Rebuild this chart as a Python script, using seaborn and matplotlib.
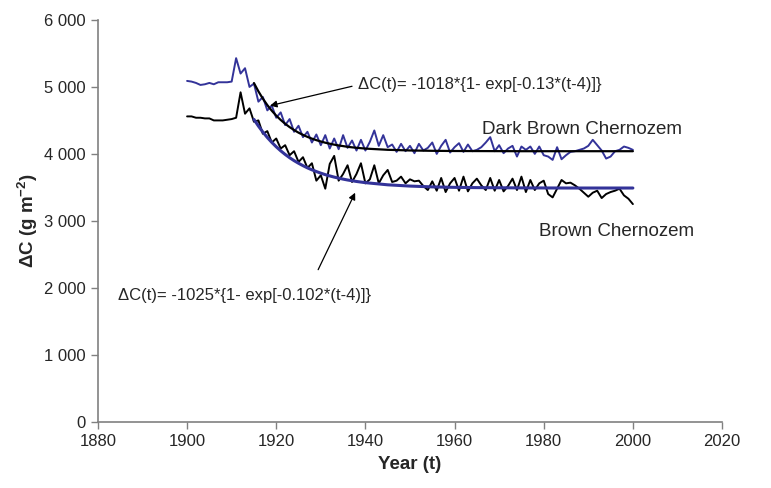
import numpy as np
import pandas as pd
import matplotlib
matplotlib.use("Agg")
import matplotlib.pyplot as plt
import seaborn as sns

# ----------------------------- DATA -----------------------------
years = list(range(1900, 2001))

dark_brown = [
    5090, 5080, 5060, 5030, 5040, 5060, 5040, 5070, 5070, 5070,   # 1900-1909
    5080, 5430, 5200, 5280, 5000, 5050, 4780, 4850, 4650, 4720,   # 1910-1919
    4540, 4620, 4430, 4520, 4330, 4420, 4250, 4330, 4170, 4290,   # 1920-1929
    4130, 4280, 4080, 4230, 4070, 4280, 4090, 4200, 4050, 4210,   # 1930-1939
    4050, 4180, 4350, 4120, 4280, 4100, 4140, 4030, 4150, 4040,   # 1940-1949
    4120, 4010, 4150, 4050, 4090, 4170, 4000, 4120, 4210, 4020,   # 1950-1959
    4100, 4160, 4030, 4140, 4040, 4060, 4100, 4170, 4250, 4040,   # 1960-1969
    4130, 4010, 4080, 4120, 3960, 4110, 4060, 4110, 4000, 4110,   # 1970-1979
    3980, 3960, 3910, 4100, 3920, 3980, 4030, 4040, 4060, 4080,   # 1980-1989
    4120, 4210, 4130, 4050, 3930, 3960, 4040, 4060, 4110, 4090,   # 1990-1999
    4060,                                                         # 2000
]

brown = [
    4560, 4560, 4540, 4540, 4530, 4530, 4500, 4500, 4500, 4510,   # 1900-1909
    4520, 4540, 4920, 4600, 4680, 4480, 4500, 4300, 4340, 4170,   # 1910-1919
    4230, 4080, 4130, 3980, 4040, 3880, 3950, 3790, 3860, 3600,   # 1920-1929
    3680, 3480, 3850, 3970, 3600, 3700, 3830, 3580, 3700, 3860,   # 1930-1939
    3560, 3620, 3830, 3560, 3680, 3760, 3580, 3600, 3660, 3560,   # 1940-1949
    3620, 3590, 3600, 3520, 3460, 3590, 3450, 3640, 3430, 3560,   # 1950-1959
    3640, 3450, 3660, 3440, 3560, 3630, 3530, 3460, 3640, 3450,   # 1960-1969
    3610, 3440, 3520, 3630, 3460, 3660, 3430, 3610, 3460, 3560,   # 1970-1979
    3600, 3400, 3350, 3480, 3610, 3560, 3570, 3530, 3480, 3420,   # 1980-1989
    3360, 3420, 3450, 3340, 3400, 3430, 3450, 3480, 3380, 3330,   # 1990-1999
    3250,                                                         # 2000
]

fit_years = list(range(1915, 1941)) + [1945, 1950, 1955, 1960, 1965, 1970,
                                       1975, 1980, 1985, 1990, 1995, 2000]
fit_dark_brown = [
    5058, 4934, 4825, 4729, 4645, 4571, 4507, 4450, 4400, 4356,
    4317, 4284, 4254, 4228, 4205, 4185, 4167, 4152, 4138, 4126,
    4116, 4106, 4098, 4091, 4085, 4079,
    4061, 4051, 4046, 4043, 4042, 4041, 4040, 4040, 4040, 4040, 4040, 4040,
]
fit_brown = [
    4515, 4416, 4326, 4245, 4172, 4106, 4046, 3992, 3943, 3899,
    3860, 3824, 3791, 3762, 3736, 3712, 3690, 3671, 3653, 3638,
    3623, 3610, 3599, 3588, 3579, 3570,
    3538, 3519, 3507, 3500, 3496, 3494, 3492, 3491, 3490, 3490, 3490, 3490,
]

xticks = [1880, 1900, 1920, 1940, 1960, 1980, 2000, 2020]
yticks = [0, 1000, 2000, 3000, 4000, 5000, 6000]
ylabels = ["0", "1 000", "2 000", "3 000", "4 000", "5 000", "6 000"]

eq_dark = "ΔC(t)= -1018*{1- exp[-0.13*(t-4)]}"
eq_brown = "ΔC(t)= -1025*{1- exp[-0.102*(t-4)]}"

# ----------------------------- STYLE -----------------------------
sns.set_style("white")
plt.rcParams["font.family"] = ["Liberation Sans", "DejaVu Sans"]
plt.rcParams["mathtext.fontset"] = "custom"
plt.rcParams["mathtext.rm"] = "Liberation Sans"
plt.rcParams["mathtext.bf"] = "Liberation Sans:bold"

navy = "#333399"
fs = 12
fs_big = 13.5

df = pd.DataFrame({"year": years, "dark": dark_brown, "brown": brown})
fit = pd.DataFrame({"year": fit_years, "dark": fit_dark_brown, "brown": fit_brown})

fig = plt.figure(figsize=(7.71, 4.88), dpi=100)
ax = fig.add_axes([0.127, 0.136, 0.8095, 0.823])

# ----------------------------- SERIES -----------------------------
line_kw = dict(solid_joinstyle="round", solid_capstyle="round")
sns.lineplot(data=df, x="year", y="dark", color=navy, lw=1.4, ax=ax, **line_kw)
sns.lineplot(data=df, x="year", y="brown", color="black", lw=1.4, ax=ax, **line_kw)
sns.lineplot(data=fit, x="year", y="dark", color="black", lw=1.6, ax=ax, **line_kw)
sns.lineplot(data=fit, x="year", y="brown", color=navy, lw=2.2, ax=ax, **line_kw)

# ----------------------------- ANNOTATIONS -----------------------------
ax.annotate("", xy=(1918.6, 4720), xytext=(1937.0, 5010),
            arrowprops=dict(arrowstyle="-|>", color="black", lw=0.9,
                            mutation_scale=10, shrinkA=0, shrinkB=0))
ax.text(1938.3, 5040, eq_dark, fontsize=fs, ha="left", va="center")

ax.annotate("", xy=(1937.7, 3420), xytext=(1929.4, 2270),
            arrowprops=dict(arrowstyle="-|>", color="black", lw=0.9,
                            mutation_scale=10, shrinkA=0, shrinkB=0))
ax.text(1884.5, 1890, eq_brown, fontsize=fs, ha="left", va="center")

ax.text(1966.2, 4360, "Dark Brown Chernozem", fontsize=fs_big, ha="left", va="center")
ax.text(1979.0, 2840, "Brown Chernozem", fontsize=fs_big, ha="left", va="center")

# ----------------------------- AXES -----------------------------
ax.set_xlim(1880, 2020)
ax.set_ylim(0, 6000)
ax.set_xticks(xticks)
ax.set_yticks(yticks, labels=ylabels)
ax.tick_params(axis="both", direction="out", length=5, width=1, color="#808080",
               labelsize=fs, pad=4, left=True, bottom=True)
for side in ["top", "right"]:
    ax.spines[side].set_visible(False)
for side in ["left", "bottom"]:
    ax.spines[side].set_color("#808080")
    ax.spines[side].set_linewidth(1.2)

ax.set_xlabel("Year (t)", fontsize=fs_big, fontweight="bold", labelpad=5)
ax.set_ylabel("ΔC (g m$^{\\mathbf{-2}}$)", fontsize=fs_big, fontweight="bold", labelpad=3)

fig.savefig("out.png", dpi=100)
